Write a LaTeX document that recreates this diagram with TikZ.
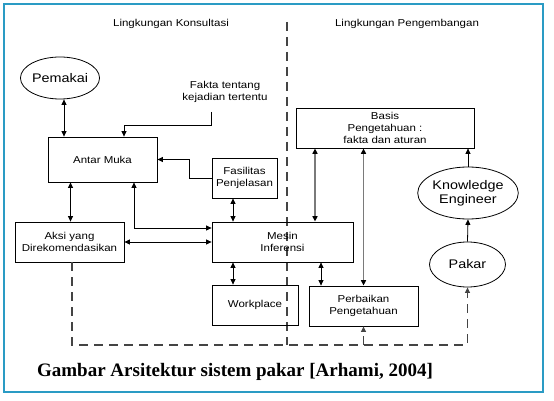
\documentclass[tikz,border=0pt]{standalone}
\usepackage{fontspec}
\setmainfont{Liberation Serif}
\newfontfamily\diagfont[FakeStretch=1.15]{Liberation Sans}
\usetikzlibrary{shapes.geometric,arrows.meta}
\definecolor{framecol}{HTML}{2A9BC4}
\definecolor{greyline}{HTML}{7A7A7A}
\definecolor{dashcol}{HTML}{444444}
\tikzset{
  box/.style={draw, rectangle, align=center, font=\diagfont\fontsize{10}{12}\selectfont, inner sep=1pt},
  oval/.style={draw, ellipse, align=center, font=\diagfont\fontsize{12.5}{14}\selectfont, inner sep=0pt},
  label text/.style={align=center, font=\diagfont\fontsize{10}{11.5}\selectfont},
  basisline/.style={greyline, line width=1.8pt},
  devline/.style={dashcol, line width=1.1pt, dash pattern=on 9pt off 6pt}
}
\begin{document}
\begin{tikzpicture}[x=1pt, y=-1pt, >={Triangle[length=5.5pt,width=5pt]}, line width=0.8pt]
                \useasboundingbox (0,0) rectangle (554,401);
                \draw[framecol, line width=1.5pt] (4,4) rectangle (543,392);
                % headings and divider
                \node[label text] (konsultasi) at (171,24) {Lingkungan Konsultasi};
                \node[label text] (pengembangan) at (407,24) {Lingkungan Pengembangan};
                \coordinate (div top) at (287,22);
                \coordinate (div bottom) at (287,345);
                \draw[devline] (div top) -- (div bottom);
                % consultation side
                \node[oval, minimum width=66pt, minimum height=42pt] (pemakai) at (60,78) {Pemakai};
                \node[label text] (fakta) at (225,92) {Fakta tentang\\kejadian tertentu};
                \coordinate (fakta end) at (211,112);
                \node[box, minimum width=109pt, minimum height=45pt] (antar) at (102.5,159.5) {Antar Muka};
                \node[box, minimum width=65pt, minimum height=40pt] (fasilitas) at (244.5,178) {Fasilitas\\Penjelasan};
                \node[box, minimum width=109pt, minimum height=40pt] (aksi) at (69.5,242) {Aksi yang\\Direkomendasikan};
                \node[box, minimum width=141pt, minimum height=40pt] (mesin) at (282.5,242) {Mesin\\Inferensi};
                \node[box, minimum width=86pt, minimum height=40pt] (workplace) at (255,305) {Workplace};
                % development side
                \node[box, minimum width=178pt, minimum height=40pt] (basis) at (385,128) {Basis\\Pengetahuan :\\fakta dan aturan};
                \node[box, minimum width=109pt, minimum height=40pt] (perbaikan) at (363.5,306) {Perbaikan\\Pengetahuan};
                \node[oval, minimum width=84pt, minimum height=52pt] (engineer) at (468,193) {Knowledge\\Engineer};
                \node[oval, minimum width=76pt, minimum height=45pt] (pakar) at (467.5,264.5) {Pakar};
                % connectors
                \draw[<->] ([xshift=4pt]pemakai.south) -- ([xshift=4pt]pemakai.south |- antar.north);
                \draw[->] (fakta end) -- ++(0,13) -| ([xshift=21.5pt]antar.north);
                \draw[->] (fasilitas.west) -- ++(-22,0) |- (antar.east);
                \draw[<->] ([xshift=-32pt]antar.south) -- ([xshift=-32pt]antar.south |- aksi.north);
                \draw[<->] ([xshift=31.5pt]antar.south) |- ([yshift=14pt]mesin.west);
                \draw[<->] (aksi.east) -- (mesin.west);
                \draw[<->] ([xshift=-11.5pt]fasilitas.south) -- ([xshift=-11.5pt]fasilitas.south |- mesin.north);
                \draw[<->] ([xshift=-22pt]workplace.north) -- ([xshift=-22pt]workplace.north |- mesin.south);
                \draw[<->] ([xshift=-42.5pt]perbaikan.north) -- ([xshift=-42.5pt]perbaikan.north |- mesin.south);
                \draw[basisline, <->, >={Triangle[length=5.5pt,width=5pt,color=black]}] ([xshift=-70pt]basis.south) -- ([xshift=-70pt]basis.south |- mesin.north);
                \draw[basisline, <->, >={Triangle[length=5.5pt,width=5pt,color=black]}] (perbaikan.north) -- (perbaikan.north |- basis.south);
                \draw[->] (engineer.north) -- (engineer.north |- basis.south);
                \draw[->] (pakar.north) -- (engineer.south);
                \coordinate (dash corner) at (72,345);
                \draw[devline, ->] ([xshift=2.5pt]aksi.south) -- (dash corner) -| (pakar.south);
                \draw[devline, ->] (perbaikan.south |- dash corner) -- (perbaikan.south);
                % caption
                \node[font=\bfseries\fontsize{19}{21}\selectfont] (caption) at (235,372) {Gambar Arsitektur sistem pakar [Arhami, 2004]};
            \end{tikzpicture}
\end{document}
